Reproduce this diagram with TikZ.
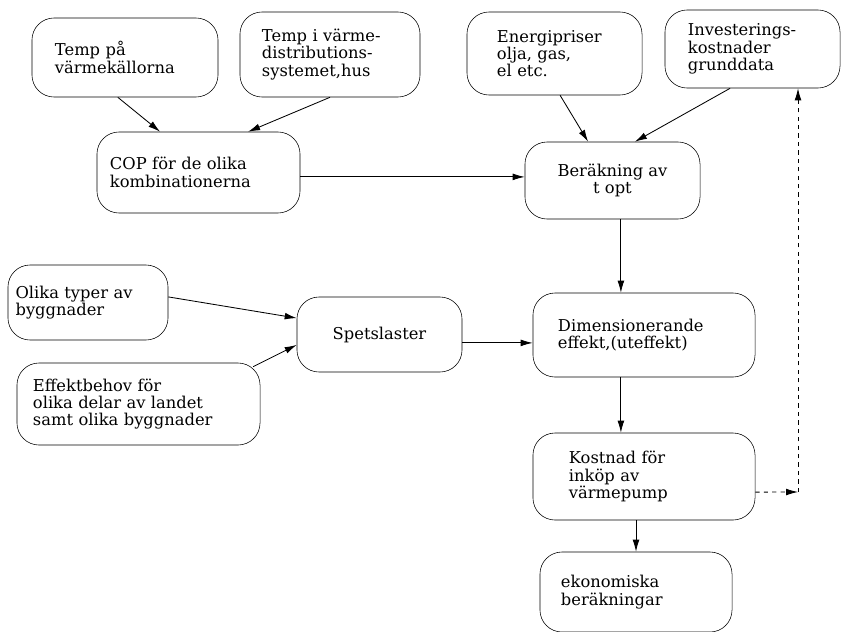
\documentclass[tikz,border=0pt]{standalone}
\usepackage{fontspec}
\setmainfont{DejaVu Serif}
\usetikzlibrary{arrows.meta}

\tikzset{
  box/.style={draw, rounded corners=0.55cm, align=left, font=\fontsize{11.6}{12.3}\selectfont, inner sep=0pt},
  pil/.style={-{Latex[length=0.3cm,width=0.17cm]}, line width=0.6pt},
}

\begin{document}
\begin{tikzpicture}[x=0.025cm, y=-0.025cm]
            \useasboundingbox (0,0) rectangle (841,631);

            % Rutor uppe
            \node[box, minimum width=4.65cm, minimum height=1.975cm, text width=3.5cm] (temp) at (125,57.5) {Temp på\\värmekällorna};
            \node[box, minimum width=4.5cm, minimum height=2.125cm, text width=3.4cm] (tempi) at (330,54.5) {Temp i värme-\\distributions-\\systemet,hus};
            \node[box, minimum width=5.075cm, minimum height=2.025cm, text width=4.425cm] (cop) at (198.5,172.5) {COP för de olika\\kombinationerna};
            \node[box, minimum width=4.375cm, minimum height=2.075cm, text width=2.875cm] (energi) at (554.5,53.5) {Energipriser\\olja, gas,\\el etc.};
            \node[box, minimum width=4.375cm, minimum height=1.95cm, text width=3.225cm] (invest) at (752.5,49) {Investerings-\\kostnader\\grunddata};
            \node[box, minimum width=4.375cm, minimum height=1.925cm, align=center] (berak) at (612.5,180.5) {Beräkning av\\t opt};

            % Rutor nere
            \node[box, minimum width=4cm, minimum height=1.875cm, text width=3.62cm] (olika) at (88,302.5) {Olika typer av\\byggnader};
            \node[box, minimum width=6.075cm, minimum height=2.05cm, text width=5.275cm] (effekt) at (138.5,404) {Effektbehov för\\olika delar av landet\\samt olika byggnader};
            \node[box, minimum width=4.125cm, minimum height=1.875cm, align=center] (spets) at (379.5,334.5) {Spetslaster};
            \node[box, minimum width=5.55cm, minimum height=2.1cm, text width=4.3cm] (dim) at (644,335) {Dimensionerande\\effekt,(uteffekt)};
            \node[box, minimum width=5.55cm, minimum height=2.175cm, text width=3.75cm] (kost) at (644,476.5) {Kostnad för\\inköp av\\värmepump};
            \node[box, minimum width=4.8cm, minimum height=2cm, text width=3.75cm] (ekon) at (636,592) {ekonomiska\\beräkningar};

            % Pilar
            \draw[pil] ([xshift=-0.18cm]temp.south) -- ([xshift=-0.96cm]cop.north);
            \draw[pil] (tempi.south) -- ([xshift=1.24cm]cop.north);
            \draw[pil] ([yshift=-0.11cm]cop.east) -- ([yshift=-0.11cm]cop.east -| berak.west);
            \draw[pil] ([xshift=0.14cm]energi.south) -- ([xshift=-0.61cm]berak.north);
            \draw[pil] ([xshift=-0.56cm]invest.south) -- ([xshift=0.56cm]berak.north);
            \draw[pil] ([xshift=0.21cm]berak.south) -- ([xshift=0.21cm]berak.south |- dim.north);
            \draw[pil] ([xshift=0.21cm]berak.south |- dim.south) -- ([xshift=0.21cm]berak.south |- kost.north);
            \draw[pil] ([xshift=-0.2cm]kost.south) -- ([xshift=-0.2cm]kost.south |- ekon.north);
            \draw[pil] ([yshift=0.14cm]olika.east) -- ([yshift=0.41cm]spets.west);
            \draw[pil] ([xshift=-0.18cm,yshift=-0.1cm]effekt.north east) -- ([yshift=-0.26cm]spets.west);
            \draw[pil] ([yshift=-0.21cm]spets.east) -- ([yshift=-0.21cm]spets.east -| dim.west);

            % Streckad återkoppling
            \coordinate (hörn) at (798,492);
            \draw[pil, dashed] ([yshift=-0.39cm]kost.east) -- (hörn);
            \draw[pil, dashed] (hörn) -- (hörn |- invest.south);
\end{tikzpicture}
\end{document}
